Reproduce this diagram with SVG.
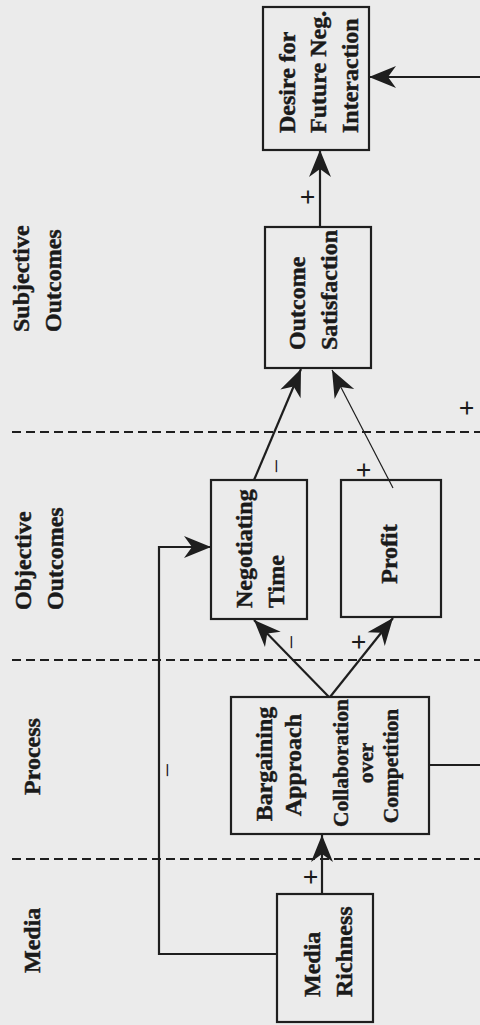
<svg xmlns="http://www.w3.org/2000/svg" width="480" height="1025" viewBox="0 0 480 1025">
  <style>
    .bg { fill: #ebebeb; }
    .box { fill: none; stroke: #1e1e1e; stroke-width: 2.2; }
    .t { font-family: "Liberation Serif", "Times New Roman", serif; font-weight: bold; font-size: 24px; fill: #1a1a1a; stroke: #1a1a1a; stroke-width: 0.45; }
    .r { font-size: 21.5px; }
    .lane { font-family: "Liberation Serif", "Times New Roman", serif; font-weight: bold; font-size: 24px; fill: #1a1a1a; stroke: #1a1a1a; stroke-width: 0.45; }
    .sign { font-family: "Liberation Serif", "Times New Roman", serif; font-weight: bold; font-size: 28px; fill: #1a1a1a; text-anchor: middle; }
    .minus { font-weight: normal; font-size: 26px; }
    .dash { fill: none; stroke: #1e1e1e; stroke-width: 2; stroke-dasharray: 9 5; }
    .conn { fill: none; stroke: #1e1e1e; stroke-width: 2.2; }
    .thin { fill: none; stroke: #1e1e1e; stroke-width: 1.2; }
  </style>
  <defs>
    <marker id="arr" viewBox="-28 -12 29 24" refX="0" refY="0" markerWidth="29" markerHeight="24" markerUnits="userSpaceOnUse" orient="auto">
      <path d="M0,0 L-27,-11 L-19,0 L-27,11 Z" fill="#1e1e1e"/>
    </marker>
  </defs>
  <rect class="bg" x="0" y="0" width="480" height="1025"/>

  <g id="lanes">
    <line class="dash" x1="12" y1="432" x2="480" y2="432"/>
    <line class="dash" x1="12" y1="660" x2="480" y2="660"/>
    <line class="dash" x1="12" y1="859" x2="480" y2="859"/>
    <text class="lane" transform="translate(29,332) rotate(-90)">Subjective</text>
    <text class="lane" transform="translate(61,332) rotate(-90)">Outcomes</text>
    <text class="lane" transform="translate(31,610) rotate(-90)">Objective</text>
    <text class="lane" transform="translate(63,610) rotate(-90)">Outcomes</text>
    <text class="lane" transform="translate(40,795) rotate(-90)">Process</text>
    <text class="lane" transform="translate(40,973) rotate(-90)">Media</text>
  </g>

  <g id="connectors">
    <path class="conn" d="M429,765 H486 V77 H369" marker-end="url(#arr)"/>
    <line class="conn" x1="320" y1="227" x2="320" y2="150" marker-end="url(#arr)"/>
    <line class="conn" x1="254" y1="480" x2="301" y2="369" marker-end="url(#arr)"/>
    <line class="thin" x1="393" y1="488" x2="332" y2="370" marker-end="url(#arr)"/>
    <path class="conn" d="M277,954 H159 V547 H211" marker-end="url(#arr)"/>
    <line class="conn" x1="329" y1="697" x2="254" y2="620" marker-end="url(#arr)"/>
    <line class="conn" x1="330" y1="697" x2="393" y2="618" marker-end="url(#arr)"/>
    <line class="conn" x1="322" y1="894" x2="322" y2="835" marker-end="url(#arr)"/>
    <text class="sign" transform="translate(317,197) rotate(-90)">+</text>
    <text class="sign" transform="translate(476,408) rotate(-90)">+</text>
    <text class="sign" transform="translate(373,470) rotate(-90)">+</text>
    <text class="sign" transform="translate(368,642) rotate(-90)">+</text>
    <text class="sign" transform="translate(320,877) rotate(-90)">+</text>
    <text class="sign minus" transform="translate(285,466) rotate(-90)">−</text>
    <text class="sign minus" transform="translate(300,642) rotate(-90)">−</text>
    <text class="sign minus" transform="translate(176,770) rotate(-90)">−</text>
  </g>

  <g id="desire">
    <rect class="box" x="263" y="7" width="106" height="143"/>
    <text class="t" transform="translate(295,133) rotate(-90)">Desire for</text>
    <text class="t" transform="translate(326,133) rotate(-90)">Future Neg.</text>
    <text class="t" transform="translate(358,133) rotate(-90)">Interaction</text>
  </g>

  <g id="outcome-satisfaction">
    <rect class="box" x="265" y="227" width="106" height="141"/>
    <text class="t" transform="translate(305,350) rotate(-90)">Outcome</text>
    <text class="t" transform="translate(337,350) rotate(-90)">Satisfaction</text>
  </g>

  <g id="negotiating-time">
    <rect class="box" x="211" y="480" width="96" height="139"/>
    <text class="t" transform="translate(252,608) rotate(-90)">Negotiating</text>
    <text class="t" transform="translate(284,608) rotate(-90)">Time</text>
  </g>

  <g id="profit">
    <rect class="box" x="341" y="480" width="100" height="137"/>
    <text class="t" text-anchor="middle" transform="translate(397,554) rotate(-90)">Profit</text>
  </g>

  <g id="bargaining">
    <rect class="box" x="231" y="697" width="198" height="137"/>
    <text class="t" text-anchor="middle" transform="translate(272,764) rotate(-90)">Bargaining</text>
    <text class="t" text-anchor="middle" transform="translate(301,765) rotate(-90)">Approach</text>
    <text class="t r" text-anchor="middle" transform="translate(348,763) rotate(-90)">Collaboration</text>
    <text class="t r" text-anchor="middle" transform="translate(373,763) rotate(-90)">over</text>
    <text class="t r" text-anchor="middle" transform="translate(398,766) rotate(-90)">Competition</text>
  </g>

  <g id="media-richness">
    <rect class="box" x="277" y="894" width="96" height="128"/>
    <text class="t" transform="translate(320,997) rotate(-90)">Media</text>
    <text class="t" transform="translate(352,997) rotate(-90)">Richness</text>
  </g>
</svg>
